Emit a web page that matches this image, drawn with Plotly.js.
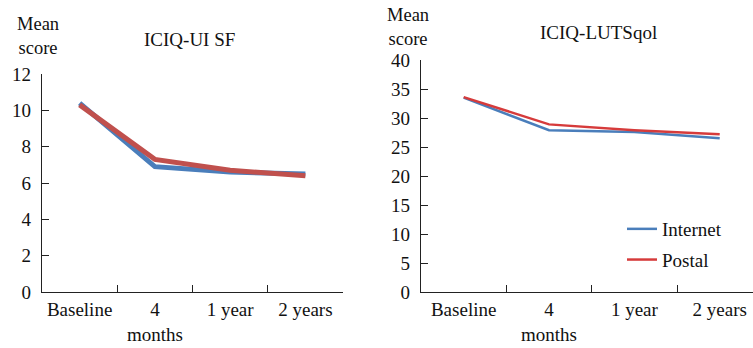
<!DOCTYPE html>
<html><head><meta charset="utf-8">
<script src="https://cdn.plot.ly/plotly-3.0.1.min.js"></script>
<style>html,body{margin:0;padding:0;background:#fff}#c{width:753px;height:348px}</style>
</head><body><div id="c"></div>
<script>
const categories = ["Baseline", "4<br>months", "1 year", "2 years"];
const uiInternet = [10.4, 6.9, 6.6, 6.5];
const uiPostal = [10.3, 7.3, 6.7, 6.4];
const lutsInternet = [33.5, 27.9, 27.6, 26.5];
const lutsPostal = [33.6, 28.9, 27.9, 27.2];
const yTicksLeft = [0, 2, 4, 6, 8, 10, 12];
const yTicksRight = [0, 5, 10, 15, 20, 25, 30, 35, 40];

const font = {family: "Liberation Serif, serif", size: 19, color: "#111"};
const blue = "#4a7ebb", red = "#c0504d", red2 = "#d63b3b";

const traces = [
  {x: categories, y: uiInternet, xaxis: "x", yaxis: "y", mode: "lines", line: {color: blue, width: 5}, showlegend: false},
  {x: categories, y: uiPostal, xaxis: "x", yaxis: "y", mode: "lines", line: {color: red, width: 5}, showlegend: false},
  {x: categories, y: lutsInternet, xaxis: "x2", yaxis: "y2", mode: "lines", line: {color: blue, width: 2.5}, name: "Internet", legendgroup: "a"},
  {x: categories, y: lutsPostal, xaxis: "x2", yaxis: "y2", mode: "lines", line: {color: red2, width: 2.5}, name: "Postal", legendgroup: "b"}
];

const xBase = {type: "category", tickson: "boundaries", ticks: "inside", ticklen: 7, tickcolor: "#222",
  showline: true, linecolor: "#222", linewidth: 1.2, showgrid: false, zeroline: false, tickfont: font,
  ticklabelstandoff: 0, fixedrange: true};
const yBase = {ticks: "inside", ticklen: 7, tickcolor: "#222", showline: true, linecolor: "#222", linewidth: 1.2,
  showgrid: false, zeroline: false, tickfont: font, ticklabelstandoff: 6, fixedrange: true};

function txt(t, x, y, size) {
  return {text: t, x: x / 753, y: 1 - y / 348, xref: "paper", yref: "paper", showarrow: false,
    xanchor: "center", yanchor: "middle", borderpad: 0, font: {family: font.family, size: size, color: "#111"}};
}

const layout = {
  width: 753, height: 348, margin: {l: 0, r: 0, t: 0, b: 0},
  paper_bgcolor: "#fff", plot_bgcolor: "#fff", font: font,
  xaxis: Object.assign({}, xBase, {domain: [42/753, 343/753], range: [-0.5, 3.5], anchor: "y"}),
  yaxis: Object.assign({}, yBase, {domain: [56/348, 274/348], range: [0, 12], tickvals: yTicksLeft, anchor: "x"}),
  xaxis2: Object.assign({}, xBase, {domain: [421/753, 1], range: [-0.5, 3.39], anchor: "y2"}),
  yaxis2: Object.assign({}, yBase, {domain: [56/348, 288/348], range: [0, 40], tickvals: yTicksRight, anchor: "x2"}),
  legend: {x: 622/753, y: 1 - 210/348, xanchor: "left", yanchor: "top", font: font, bgcolor: "rgba(0,0,0,0)",
    traceorder: "grouped", tracegroupgap: 3, itemwidth: 30},
  annotations: [
    txt("ICIQ-UI SF", 189, 40, 19),
    txt("ICIQ-LUTSqol", 598, 32, 19),
    txt("Mean<br>score", 38, 36, 18.5),
    txt("Mean<br>score", 408, 27, 18.5)
  ]
};
Plotly.newPlot("c", traces, layout, {displayModeBar: false, staticPlot: true});
</script></body></html>
